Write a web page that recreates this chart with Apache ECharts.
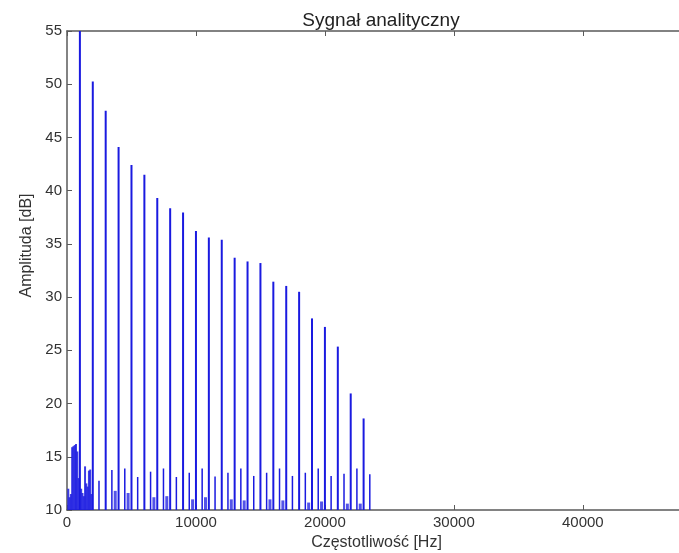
<!DOCTYPE html>
<html>
<head>
    <meta charset="utf-8">
    <title>Sygnał analityczny</title>
    <style>
    html, body { margin: 0; padding: 0; background: #fff; }
    </style>
    <script type="text/javascript" src="https://cdn.jsdelivr.net/npm/echarts@6/dist/echarts.min.js"></script>
</head>
<body>
    <div id="main" style="width:679px;height:553px"></div>
    <script>
    // harmoniczne (prazki glowne)
    var harmonicHz = [1000, 2000, 3000, 4000, 5000, 6000, 7000, 8000, 9000, 10000, 11000, 12000,
                      13000, 14000, 15000, 16000, 17000, 18000, 19000, 20000, 21000, 22000, 23000];
    var harmonicDb = [56, 50.25, 47.5, 44.1, 42.4, 41.5, 39.3, 38.35, 37.95, 36.2, 35.6, 35.4,
                      33.7, 33.35, 33.2, 31.45, 31.05, 30.5, 28.0, 27.2, 25.35, 20.95, 18.6];
    // male prazki pomiedzy
    var sideHz = [2500, 3500, 4500, 5500, 6500, 7500, 8500, 9500, 10500, 11500, 12500,
                  13500, 14500, 15500, 16500, 17500, 18500, 19500, 20500, 21500, 22500, 23500];
    var sideDb = [12.75, 13.75, 13.9, 13.1, 13.6, 13.9, 13.1, 13.5, 13.9, 13.15, 13.5,
                  13.9, 13.2, 13.5, 13.9, 13.2, 13.5, 13.9, 13.2, 13.4, 13.9, 13.35];
    // szum w zakresie niskich czestotliwosci
    var lowHz = [100, 200, 300, 400, 500, 600, 700, 800, 900, 1100, 1200, 1300, 1400, 1500, 1600, 1700, 1800, 1900];
    var lowDb = [12.0, 11.2, 11.5, 15.9, 16.0, 16.1, 16.2, 15.5, 13.0, 12.0, 11.6, 11.3, 14.1, 12.5, 12.2, 13.7, 13.8, 11.5];
    // drobne garby przy podstawie
    var bumpHz = [3700, 4700, 6700, 7700, 9700, 10700, 12700, 13700, 15700, 16700, 18700, 19700, 21700, 22700];
    var bumpDb = [11.8, 11.6, 11.2, 11.3, 11.0, 11.2, 11.0, 10.9, 11.0, 10.9, 10.7, 10.8, 10.6, 10.6];
    var xTicks = [0, 10000, 20000, 30000, 40000];
    var yTicks = [10, 15, 20, 25, 30, 35, 40, 45, 50, 55];

    function pairs(xs, ys) {
        var out = [];
        for (var i = 0; i < xs.length; i++) out.push([xs[i], ys[i]]);
        return out;
    }

    var font = 'Liberation Sans, Arial, sans-serif';
    var lineCol = '#5a5a5a';
    var blue = '#1a1ae0';

    function xAx(pos, labels) {
        return {
            type: 'value', position: pos, min: xTicks[0], max: 48000, interval: 10000,
            axisLine: { show: true, onZero: false, lineStyle: { color: lineCol, width: 1.5 } },
            axisTick: { show: true, inside: true, length: 5, lineStyle: { color: lineCol } },
            axisLabel: { show: labels, color: '#333', fontFamily: font, fontSize: 15, margin: 5,
                         showMaxLabel: false,
                         formatter: function (v) { return String(v); } },
            splitLine: { show: false },
            name: labels ? 'Częstotliwość [Hz]' : '',
            nameLocation: 'middle', nameGap: 24,
            nameTextStyle: { color: '#333', fontFamily: font, fontSize: 16 }
        };
    }
    function yAx(pos, labels) {
        return {
            type: 'value', position: pos, min: yTicks[0], max: yTicks[yTicks.length - 1], interval: 5,
            startValue: 10,
            axisLine: { show: true, onZero: false, lineStyle: { color: lineCol, width: 1.5 } },
            axisTick: { show: true, inside: true, length: 5, lineStyle: { color: lineCol } },
            axisLabel: { show: labels, color: '#333', fontFamily: font, fontSize: 15, margin: 5 },
            splitLine: { show: false },
            name: labels ? 'Amplituda [dB]' : '',
            nameLocation: 'middle', nameGap: 31,
            nameTextStyle: { color: '#333', fontFamily: font, fontSize: 16, padding: [0, 0, 0, 50] }
        };
    }

    var option = {
        animation: false,
        backgroundColor: '#fff',
        title: {
            text: 'Sygnał analityczny',
            left: 376, top: 6, textAlign: 'center',
            textStyle: { color: '#222', fontFamily: font, fontSize: 19, fontWeight: 'normal' }
        },
        grid: { left: 67, top: 31, width: 619, height: 479, containLabel: false, outerBoundsMode: 'none' },
        xAxis: [xAx('bottom', true), xAx('top', false)],
        yAxis: [yAx('left', true), yAx('right', false)],
        series: [{
            type: 'bar', barWidth: 3, barGap: '-100%', clip: true,
            itemStyle: { color: blue, opacity: 0.75 },
            data: pairs(bumpHz, bumpDb)
        }, {
            type: 'bar', barWidth: 2, barGap: '-100%', clip: true,
            itemStyle: { color: blue, opacity: 0.85 },
            data: pairs(lowHz, lowDb)
        }, {
            type: 'bar', barWidth: 1.5, barGap: '-100%', clip: true,
            itemStyle: { color: blue },
            data: pairs(sideHz, sideDb)
        }, {
            type: 'bar', barWidth: 2, barGap: '-100%', clip: true,
            itemStyle: { color: blue },
            data: pairs(harmonicHz, harmonicDb)
        }]
    };

    var myChart = echarts.init(document.getElementById('main'));
    myChart.setOption(option);
    </script>
</body>
</html>
